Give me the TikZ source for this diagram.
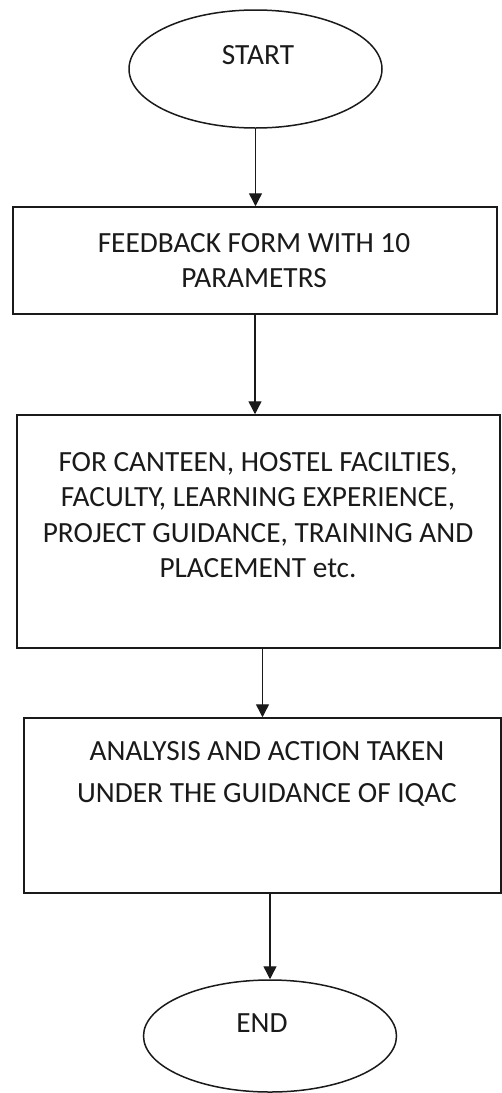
\documentclass[tikz,border=0pt]{standalone}
\usepackage{fontspec}
\setmainfont{Carlito}
\usetikzlibrary{shapes.geometric,arrows.meta}
\definecolor{ink}{HTML}{1A1A1A}
\tikzset{
  shapeline/.style={draw=ink, line width=1.5pt},
  term/.style={shapeline, ellipse, minimum width=253pt, minimum height=118pt, inner sep=0pt},
  procbox/.style={shapeline, rectangle, inner sep=0pt},
  txt/.style={text=ink, align=center, inner sep=0pt, font=\fontsize{29.3}{35.3}\selectfont},
  flow/.style={draw=ink, line width=1.4pt, -{Triangle[length=13pt,width=13pt]}}
}
\begin{document}
\begin{tikzpicture}[x=1pt,y=-1pt]
\useasboundingbox (0,0) rectangle (502,1093);
% shapes
\node[term] (start) at (255.5,69) {};
\node[txt] (starttxt) at (258,55) {START};
\node[procbox, minimum width=484pt, minimum height=107pt] (b1) at (255,260.5) {};
\node[txt] (b1txt) at (254,260.5) {FEEDBACK FORM WITH 10\\PARAMETRS};
\node[procbox, minimum width=483pt, minimum height=233pt] (b2) at (258.5,531.5) {};
\node[txt] (b2txt) at (258,515) {FOR CANTEEN, HOSTEL FACILTIES,\\FACULTY, LEARNING EXPERIENCE,\\PROJECT GUIDANCE, TRAINING AND\\PLACEMENT etc.};
\node[procbox, minimum width=477pt, minimum height=175pt] (b3) at (262.5,805.5) {};
\node[txt] (b3txt) at (267,774) {ANALYSIS AND ACTION TAKEN\\[6pt]UNDER THE GUIDANCE OF IQAC};
\node[term, minimum height=112pt] (end) at (270,1036) {};
\node[txt] (endtxt) at (262,1023) {END};
% connectors
\draw[flow] (start.south) -- (start.south |- b1.north);
\draw[flow] (b1.south) -- (b1.south |- b2.north);
\draw[flow] (b3.north |- b2.south) -- (b3.north);
\draw[flow] (end.north |- b3.south) -- (end.north);
\end{tikzpicture}
\end{document}
